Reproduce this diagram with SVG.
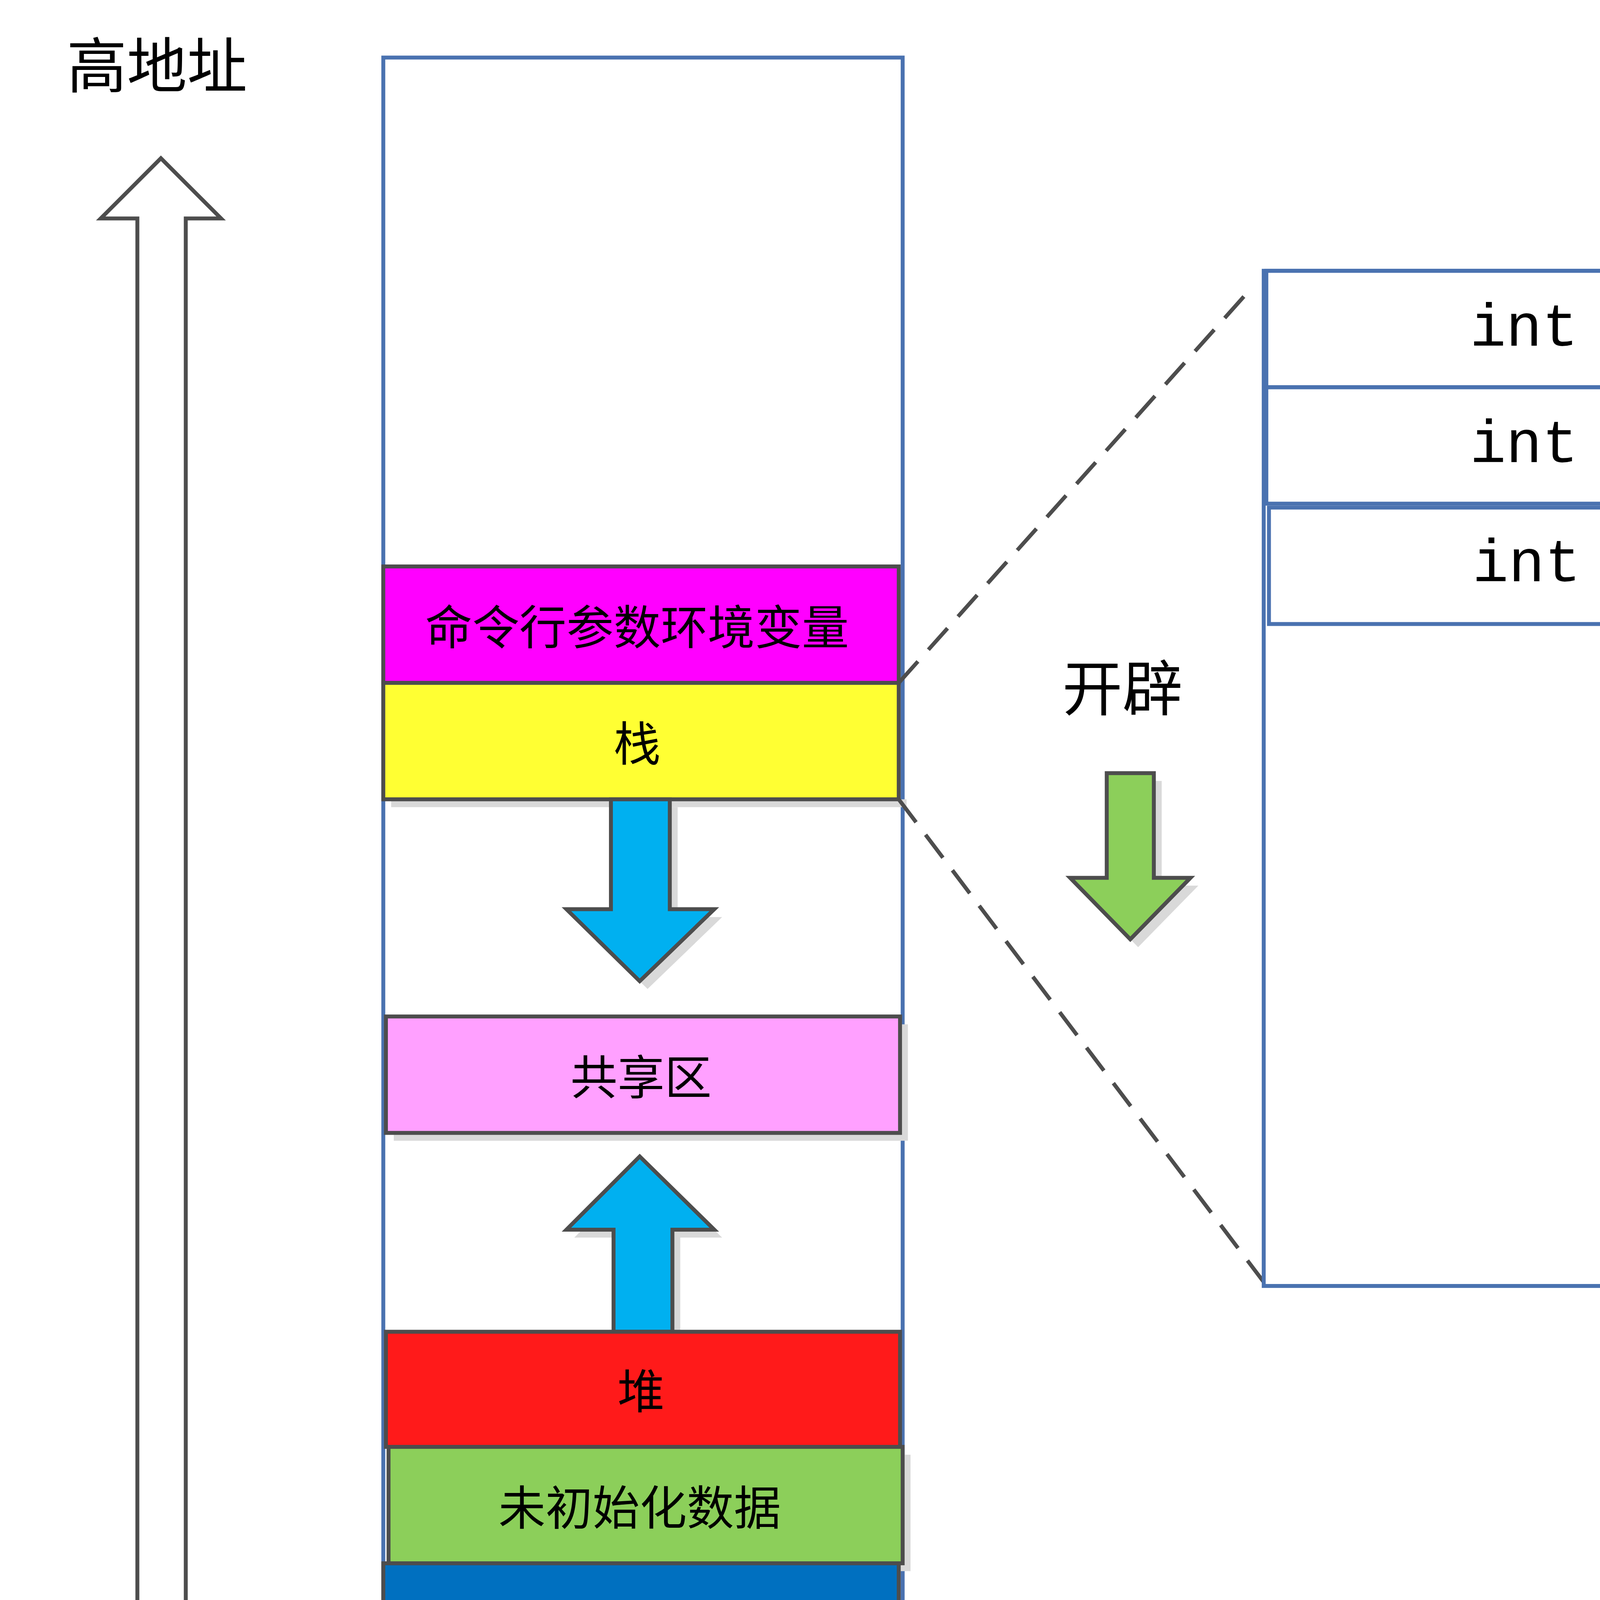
<svg xmlns="http://www.w3.org/2000/svg" width="5227" height="4744" viewBox="0 0 5227 4744">
<style>
.t{font-family:"Noto Sans CJK SC","Noto Sans",sans-serif;text-anchor:middle;dominant-baseline:central;fill:#000}
.m{font-family:"Liberation Mono","DejaVu Sans Mono",monospace;text-anchor:middle;dominant-baseline:central;font-size:46px}
.row{stroke:#4d4d4d;stroke-width:3}
.sh{fill:#d9d9d9}
.ar{stroke:#4d4d4d;stroke-width:3;stroke-linejoin:miter}
.bl{fill:none;stroke:#4a72b0;stroke-width:3}
</style>
<rect width="5227" height="4744" fill="#fff"/>
<g transform="scale(3.349)">
<g id="addr-arrow">
<polygon class="ar" fill="#fff" points="105,1283 105,167 77,167 123,121 169,167 142,167 142,1283"/>
<text class="t" x="120" y="47" font-size="46">高地址</text>
<text class="t" x="120" y="1373" font-size="46">低地址</text>
</g>
<g id="memory">
<rect class="bl" x="293" y="44" width="397" height="1329"/>
<g id="args"><rect class="row" x="293" y="433" width="394" height="89" fill="#ff00ff"/><text class="t" x="487" y="477" font-size="36">命令行参数环境变量</text></g>
<g id="stack"><rect class="sh" x="299" y="611" width="394" height="6"/><rect class="row" x="293" y="522" width="394" height="89" fill="#ffff33"/><text class="t" x="487" y="566" font-size="36">栈</text></g>
<g id="stack-arrow"><polygon class="sh" points="473,617 518,617 518,701 552,701 495,756 439,701 473,701"/><polygon class="ar" fill="#00b0f0" points="467,611 512,611 512,695 546,695 489,750 433,695 467,695"/></g>
<g id="shared"><rect class="sh" x="301" y="783" width="393" height="89"/><rect class="row" x="295" y="777" width="393" height="89" fill="#ffa0ff"/><text class="t" x="490" y="821" font-size="36">共享区</text></g>
<g id="heap-arrow"><polygon class="sh" points="495,890 552,946 520,946 520,1024 475,1024 475,946 439,946"/><polygon class="ar" fill="#00b0f0" points="489,884 546,940 514,940 514,1018 469,1018 469,940 433,940"/></g>
<g id="heap"><rect class="row" x="295" y="1018" width="393" height="88" fill="#ff1a1a"/><text class="t" x="490" y="1061" font-size="36">堆</text></g>
<g id="bss"><rect class="sh" x="303" y="1112" width="393" height="89"/><rect class="row" x="297" y="1106" width="393" height="89" fill="#8ccf5a"/><text class="t" x="489" y="1150" font-size="36">未初始化数据</text></g>
<g id="data"><rect class="row" x="293" y="1195" width="394" height="89" fill="#0070c0"/><text class="t" x="486" y="1240" font-size="36">初始化数据</text></g>
<g id="text"><rect class="sh" x="301" y="1290" width="393" height="87"/><rect class="row" x="295" y="1284" width="393" height="87" fill="#8ccf5a"/><text class="t" x="490" y="1327" font-size="36">正文代码</text></g>
</g>
<g id="connectors">
<line x1="687" y1="522" x2="955" y2="222" stroke="#4d4d4d" stroke-width="3" stroke-dasharray="22,12"/>
<line x1="687" y1="611" x2="966" y2="980" stroke="#4d4d4d" stroke-width="3" stroke-dasharray="22,12"/>
</g>
<g id="detail">
<rect class="bl" x="966" y="207" width="409" height="776"/>
<g id="int1"><rect class="bl" x="968" y="207" width="406" height="89"/><text class="m" x="1165" y="252">int</text></g>
<g id="int2"><rect class="bl" x="968" y="296" width="406" height="89"/><text class="m" x="1165" y="341">int</text></g>
<g id="int3"><rect class="bl" x="970" y="388" width="404" height="89"/><text class="m" x="1167" y="432">int</text></g>
</g>
<g id="alloc">
<text class="t" x="858" y="523" font-size="46">开辟</text>
<polygon class="sh" points="852,597 888,597 888,677 916,677 870,724 824,677 852,677"/>
<polygon class="ar" fill="#8ccf5a" points="846,591 882,591 882,671 910,671 864,718 818,671 846,671"/>
</g>
<g id="access">
<text class="t" x="1480" y="525" font-size="46">访问</text>
<polygon class="sh" points="1491,584 1536,632 1509,632 1509,723 1473,723 1473,632 1446,632"/>
<polygon class="ar" fill="#ffff33" points="1485,578 1530,626 1503,626 1503,717 1467,717 1467,626 1440,626"/>
</g>
</g>
</svg>
